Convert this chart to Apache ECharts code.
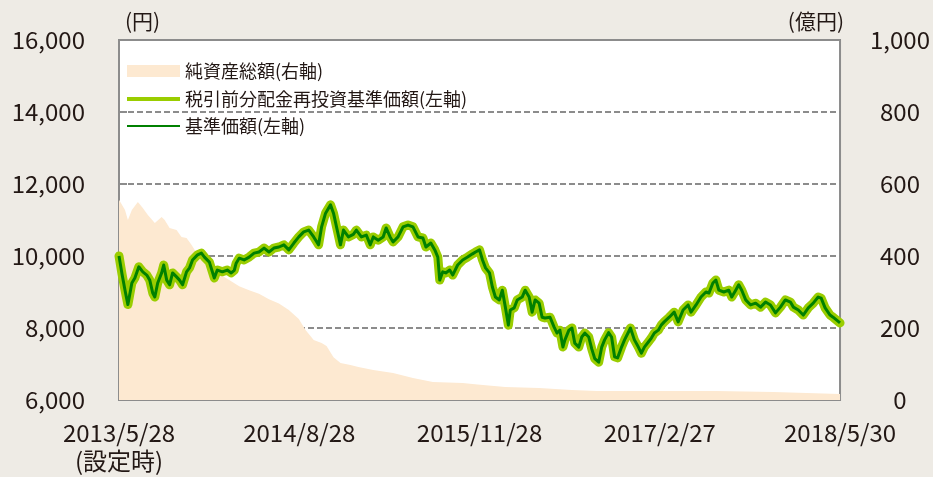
<!DOCTYPE html>
<html>
<head>
<meta charset="utf-8">
<script src="https://cdn.jsdelivr.net/npm/echarts@6/dist/echarts.min.js"></script>
<style>
  html, body { margin: 0; padding: 0; background: #eeebe5; }
  #chart { width: 933px; height: 477px; }
</style>
</head>
<body>
<div id="chart"></div>
<script>
// months since inception (2013/5/28) and values
const tickLabels = ["2013/5/28\n(設定時)", "2014/8/28", "2015/11/28", "2017/2/27", "2018/5/30"];

// 税引前分配金再投資基準価額 / 基準価額 (same values, no distributions)
const navMonths = [
  0, 0.25, 0.5, 0.74, 1.07, 1.32, 1.65, 1.98, 2.31, 2.56, 2.81, 2.98, 3.22, 3.55, 3.72, 3.97,
  4.21, 4.46, 4.79, 5.04, 5.29, 5.62, 5.87, 6.12, 6.53, 6.86, 7.11, 7.52, 7.93, 8.18, 8.6, 9.01,
  9.34, 9.59, 9.75, 10.0, 10.41, 10.83, 11.24, 11.65, 12.07, 12.48, 12.89, 13.31, 13.72, 14.13,
  14.55, 14.96, 15.37, 15.79, 16.2, 16.61, 16.86, 17.19, 17.6, 17.85, 18.1, 18.43, 18.68, 19.09,
  19.5, 19.75, 20.17, 20.58, 20.91, 21.16, 21.57, 21.98, 22.23, 22.56, 22.81, 23.22, 23.64, 24.05,
  24.46, 24.88, 25.29, 25.54, 25.95, 26.28, 26.53, 26.69, 26.94, 27.19, 27.52, 27.77, 28.18, 28.6,
  29.01, 29.42, 29.67, 30.0, 30.25, 30.5, 30.83, 31.07, 31.32, 31.65, 31.9, 32.15, 32.4, 32.56,
  32.89, 33.14, 33.55, 33.8, 34.13, 34.38, 34.63, 34.96, 35.21, 35.45, 35.87, 36.2, 36.45, 36.69,
  36.94, 37.11, 37.44, 37.69, 37.93, 38.26, 38.51, 38.76, 39.09, 39.34, 39.59, 39.92, 40.17, 40.41,
  40.74, 40.99, 41.24, 41.49, 41.82, 42.07, 42.4, 42.56, 42.89, 43.22, 43.47, 43.72, 44.05, 44.3,
  44.55, 44.88, 45.12, 45.37, 45.79, 46.2, 46.53, 46.94, 47.36, 47.6, 48.02, 48.43, 48.84, 49.09,
  49.42, 49.67, 49.92, 50.33, 50.74, 50.99, 51.32, 51.57, 51.82, 52.15, 52.56, 52.98, 53.39, 53.8,
  54.21, 54.63, 55.04, 55.45, 55.87, 56.12, 56.53, 56.94, 57.36, 57.77, 58.18, 58.43, 58.76, 59.17,
  59.42, 60.0
];
const navValues = [
  10000, 9500, 9050, 8650, 9250, 9390, 9700, 9560, 9470, 9330, 8970, 8860, 9250, 9530, 9750, 9330,
  9200, 9530, 9420, 9330, 9200, 9560, 9670, 9890, 10030, 10080, 9970, 9830, 9390, 9610, 9560, 9610,
  9530, 9600, 9800, 9940, 9890, 9970, 10080, 10110, 10220, 10110, 10220, 10250, 10310, 10170,
  10360, 10530, 10670, 10720, 10530, 10310, 10810, 11190, 11420, 11190, 10810, 10310, 10720, 10530,
  10600, 10720, 10530, 10580, 10310, 10530, 10440, 10530, 10780, 10530, 10390, 10530, 10810, 10860,
  10810, 10530, 10500, 10250, 10360, 10170, 9970, 9330, 9560, 9530, 9610, 9470, 9750, 9890,
  9970, 10060, 10110, 10170, 9890, 9670, 9530, 9140, 8860, 8780, 9050, 8580, 8080, 8500,
  8560, 8780, 8860, 9050, 8860, 8440, 8780, 8690, 8300, 8280, 8300, 8030, 7860, 7940,
  7470, 7670, 7940, 8000, 7580, 7470, 7750, 7860, 7750, 7420, 7150, 7050, 7470, 7670,
  7870, 7750, 7200, 7170, 7470, 7670, 7890, 8000, 7670, 7470, 7300, 7470, 7610, 7720,
  7860, 7940, 8080, 8170, 8300, 8440, 8170, 8500, 8640, 8440, 8640, 8860, 9000, 8970,
  9250, 9330, 9050, 9000, 9050, 8860, 9050, 9200, 9050, 8780, 8640, 8690, 8580, 8720,
  8640, 8420, 8580, 8780, 8720, 8580, 8500, 8360, 8560, 8690, 8860, 8830, 8560, 8360,
  8300, 8140
];

// 純資産総額 (億円)
const assetMonths = [
  0, 0.5, 0.74, 1.07, 1.57, 1.98, 2.4, 2.98, 3.55, 3.8, 4.21, 4.79, 5.2, 5.62, 6.03, 6.45,
  7.52, 8.35, 9.17, 10.0, 10.83, 11.65, 12.48, 13.31, 14.13, 14.96, 15.54, 16.2, 16.86, 17.27,
  17.85, 18.43, 19.26, 19.92, 21.16, 22.81, 24.46, 26.12, 28.6, 29.83, 32.15, 34.96, 37.69, 39.75,
  49.67, 54.46, 60.0
];
const assetValues = [
  556, 528, 500, 528, 550, 533, 514, 492, 508, 500, 478, 472, 453, 450, 431, 408,
  375, 350, 333, 316, 305, 295, 280, 268, 250, 225, 194, 167, 158, 150,
  119, 103, 97, 92, 83, 75, 61, 50, 47, 43, 36, 33, 28, 25,
  25, 22, 17
];

const font = "'Noto Sans CJK JP', 'Noto Sans', sans-serif";
const textColor = "#231815";
const frameColor = "#8c8c8c";

const zip = (xs, ys) => xs.map((x, i) => [x, ys[i]]);

const chart = echarts.init(document.getElementById("chart"));

const legendBase = {
  orient: "vertical",
  left: 127,
  padding: 0,
  itemWidth: 53,
  selectedMode: false,
  textStyle: { fontFamily: font, fontSize: 18, color: textColor },
};

const option = {
  backgroundColor: "#eeebe5",
  animation: false,
  textStyle: { fontFamily: font },
  grid: {
    left: 119,
    right: 88,
    top: 40,
    bottom: 77,
    show: true,
    backgroundColor: "#fff",
    borderColor: frameColor,
    borderWidth: 2,
  },
  legend: [
    Object.assign({}, legendBase, {
      top: 62,
      itemHeight: 12,
      icon: "rect",
      data: ["純資産総額(右軸)"],
    }),
    Object.assign({}, legendBase, {
      top: 90,
      itemHeight: 4,
      icon: "rect",
      data: ["税引前分配金再投資基準価額(左軸)"],
    }),
    Object.assign({}, legendBase, {
      top: 117,
      itemHeight: 2,
      icon: "rect",
      data: ["基準価額(左軸)"],
    }),
  ],
  xAxis: {
    type: "value",
    min: 0,
    max: 60,
    interval: 15,
    splitLine: { show: false },
    axisLine: { lineStyle: { color: frameColor, width: 2 } },
    axisTick: { inside: true, length: 8, lineStyle: { color: frameColor, width: 2 } },
    axisLabel: {
      margin: 19,
      fontSize: 24,
      lineHeight: 28,
      color: textColor,
      fontFamily: font,
      formatter: (v) => tickLabels[Math.round(v / 15)],
    },
  },
  yAxis: [
    {
      type: "value",
      min: 6000,
      max: 16000,
      interval: 2000,
      name: "(円)",
      nameGap: 8,
      nameTextStyle: { fontSize: 21, color: textColor, fontFamily: font, align: "left", padding: [0, 0, 0, 6] },
      axisLine: { show: true, lineStyle: { color: frameColor, width: 2 } },
      axisTick: { show: true, inside: true, length: 8, lineStyle: { color: frameColor, width: 2 } },
      axisLabel: {
        margin: 34,
        fontSize: 24,
        color: textColor,
        fontFamily: font,
        formatter: (v) => v.toLocaleString("en-US"),
      },
      splitLine: { lineStyle: { color: frameColor, width: 2, type: [6, 3] } },
    },
    {
      type: "value",
      min: 0,
      max: 1000,
      interval: 200,
      position: "right",
      name: "(億円)",
      nameGap: 8,
      nameTextStyle: { fontSize: 21, color: textColor, fontFamily: font, align: "right", padding: [0, -4, 0, 0] },
      axisLine: { show: false },
      axisTick: { show: false },
      splitLine: { show: false },
      axisLabel: {
        margin: 60,
        align: "center",
        fontSize: 24,
        color: textColor,
        fontFamily: font,
        formatter: (v) => v.toLocaleString("en-US"),
      },
    },
  ],
  series: [
    {
      name: "純資産総額(右軸)",
      type: "line",
      yAxisIndex: 1,
      data: zip(assetMonths, assetValues),
      symbol: "none",
      lineStyle: { width: 0 },
      itemStyle: { color: "#fde9d1" },
      areaStyle: { color: "#fde9d1", opacity: 1 },
      z: 1,
    },
    {
      name: "税引前分配金再投資基準価額(左軸)",
      type: "line",
      data: zip(navMonths, navValues),
      symbol: "none",
      itemStyle: { color: "#9acd00" },
      lineStyle: { color: "#9acd00", width: 9, join: "round", cap: "round" },
      z: 2,
    },
    {
      name: "基準価額(左軸)",
      type: "line",
      data: zip(navMonths, navValues),
      symbol: "none",
      itemStyle: { color: "#008000" },
      lineStyle: { color: "#008000", width: 3, join: "round" },
      z: 3,
    },
  ],
};

chart.setOption(option);
</script>
</body>
</html>
